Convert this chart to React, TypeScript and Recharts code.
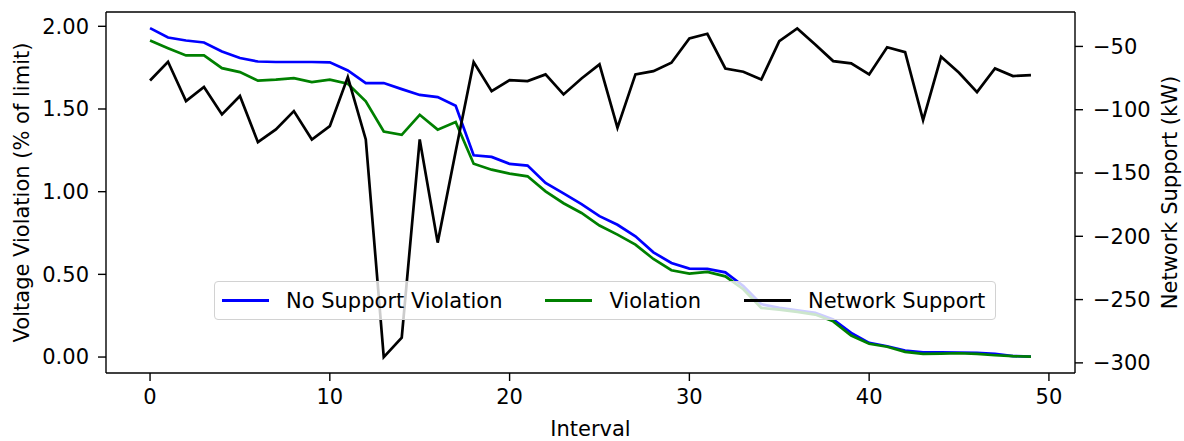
import React from 'react';
import { LineChart, Line, XAxis, YAxis, Legend } from 'recharts';

const FONT = '"DejaVu Sans", sans-serif';

// interval index
const intervals = [
  0, 1, 2, 3, 4, 5, 6, 7, 8, 9, 10, 11, 12, 13, 14, 15, 16, 17, 18, 19, 20, 21, 22, 23, 24,
  25, 26, 27, 28, 29, 30, 31, 32, 33, 34, 35, 36, 37, 38, 39, 40, 41, 42, 43, 44, 45, 46, 47, 48, 49,
];

// voltage violation (% of limit) without support
const noSupportViolation = [
  1.989, 1.932, 1.914, 1.902, 1.848, 1.808, 1.787, 1.784, 1.784, 1.784,
  1.782, 1.733, 1.657, 1.657, 1.62, 1.585, 1.572, 1.52, 1.22, 1.21,
  1.168, 1.158, 1.053, 0.99, 0.925, 0.852, 0.8, 0.73, 0.633, 0.569,
  0.535, 0.533, 0.512, 0.43, 0.32, 0.297, 0.283, 0.267, 0.227, 0.146,
  0.086, 0.065, 0.039, 0.029, 0.029, 0.027, 0.025, 0.019, 0.006, 0.003,
];

// voltage violation with support
const violation = [
  1.914, 1.868, 1.824, 1.824, 1.747, 1.723, 1.671, 1.677, 1.687, 1.663,
  1.677, 1.653, 1.546, 1.364, 1.344, 1.465, 1.375, 1.421, 1.169, 1.133,
  1.109, 1.093, 1.002, 0.93, 0.871, 0.795, 0.74, 0.68, 0.593, 0.525,
  0.505, 0.515, 0.488, 0.41, 0.297, 0.287, 0.273, 0.257, 0.216, 0.13,
  0.08, 0.062, 0.031, 0.019, 0.021, 0.023, 0.019, 0.011, 0.005, 0.003,
];

// network support (kW)
const networkSupport = [
  -76.9, -62.1, -93.2, -82.1, -103.7, -89.2, -125.6, -115.6, -101.1, -123.5,
  -113, -74.2, -123.5, -295.4, -280.1, -123.5, -205, -133, -62.4, -85.3,
  -76.6, -77.4, -72.1, -87.9, -75.3, -64.2, -114.2, -72.1, -69.5, -62.9,
  -43.7, -40, -67.4, -70, -76.1, -45.8, -35.8, -48.4, -61.6, -63.4,
  -72.1, -50.6, -54.5, -108.2, -58.2, -70.8, -86.1, -67.4, -73.4, -72.6,
];

const seriesNames = ['No Support Violation', 'Violation', 'Network Support'];

const xTicks = [0, 10, 20, 30, 40, 50];
const leftTicks = [0, 0.5, 1, 1.5, 2];
const rightTicks = [-300, -250, -200, -150, -100, -50];

const data = intervals.map((x, i) => ({
  x,
  noSupport: noSupportViolation[i],
  violation: violation[i],
  support: networkSupport[i],
}));

const tickStyle = { fill: '#000', fontSize: 21, fontFamily: FONT };
const axisLine = { stroke: '#000', strokeWidth: 1.4 };
const tickLine = { stroke: '#000', strokeWidth: 1.4 };

function LegendBox({ payload }: any) {
  const items = [...(payload || [])].sort(
    (a: any, b: any) => seriesNames.indexOf(a.value) - seriesNames.indexOf(b.value)
  );
  return (
    <div
      style={{
        display: 'inline-flex',
        alignItems: 'center',
        height: 39,
        boxSizing: 'border-box',
        border: '1px solid #d2d2d2',
        borderRadius: 4,
        background: 'rgba(255,255,255,0.8)',
        padding: '0 10px 0 7px',
        fontFamily: FONT,
        fontSize: 21,
        color: '#000',
        whiteSpace: 'nowrap',
      }}
    >
      {items.map((p: any, i: number) => (
        <div key={i} style={{ display: 'flex', alignItems: 'center', marginLeft: i ? 43 : 0 }}>
          <span style={{ display: 'inline-block', width: 47, height: 3, background: p.color, marginRight: 17 }} />
          <span>{p.value}</span>
        </div>
      ))}
    </div>
  );
}

export default function App() {
  return (
    <div style={{ position: 'absolute', left: 0, top: 0, background: '#fff' }}>
      <LineChart width={1184} height={441} data={data} margin={{ top: 11, right: 0, bottom: 0, left: 0 }}>
        <XAxis
          dataKey="x"
          type="number"
          domain={[-2.45, 51.45]}
          ticks={xTicks}
          allowDataOverflow
          height={68}
          tick={tickStyle}
          tickSize={8}
          tickMargin={8}
          axisLine={axisLine}
          tickLine={tickLine}
          label={{ value: 'Interval', position: 'center', dy: 22, fill: '#000', fontSize: 21, fontFamily: FONT }}
        />
        <XAxis
          xAxisId="top"
          orientation="top"
          dataKey="x"
          type="number"
          domain={[-2.45, 51.45]}
          height={1}
          tick={false}
          tickLine={false}
          axisLine={axisLine}
        />
        <YAxis
          yAxisId="left"
          type="number"
          domain={[-0.0965, 2.0865]}
          ticks={leftTicks}
          allowDataOverflow
          width={106}
          tick={tickStyle}
          tickSize={8}
          tickMargin={9}
          axisLine={axisLine}
          tickLine={tickLine}
          tickFormatter={(v: number) => v.toFixed(2)}
          label={{
            value: 'Voltage Violation (% of limit)',
            angle: -90,
            position: 'center',
            dx: -31,
            fill: '#000',
            fontSize: 21,
            fontFamily: FONT,
          }}
        />
        <YAxis
          yAxisId="right"
          orientation="right"
          type="number"
          domain={[-308, -22.8]}
          ticks={rightTicks}
          allowDataOverflow
          width={109}
          tick={tickStyle}
          tickSize={8}
          tickMargin={10}
          axisLine={axisLine}
          tickLine={tickLine}
          tickFormatter={(v: number) => String(v).replace('-', '\u2212')}
          label={{
            value: 'Network Support (kW)',
            angle: -90,
            position: 'center',
            dx: 40,
            fill: '#000',
            fontSize: 21,
            fontFamily: FONT,
          }}
        />
        <Line
          yAxisId="left"
          dataKey="noSupport"
          name={seriesNames[0]}
          stroke="#0000ff"
          strokeWidth={2.7}
          dot={false}
          isAnimationActive={false}
        />
        <Line
          yAxisId="left"
          dataKey="violation"
          name={seriesNames[1]}
          stroke="#008000"
          strokeWidth={2.7}
          dot={false}
          isAnimationActive={false}
        />
        <Line
          yAxisId="right"
          dataKey="support"
          name={seriesNames[2]}
          stroke="#000000"
          strokeWidth={2.7}
          dot={false}
          isAnimationActive={false}
        />
        <Legend
          layout="horizontal"
          verticalAlign="middle"
          align="center"
          content={<LegendBox />}
          wrapperStyle={{ left: 214, top: 281, width: 'auto', height: 'auto' }}
        />
      </LineChart>
    </div>
  );
}
